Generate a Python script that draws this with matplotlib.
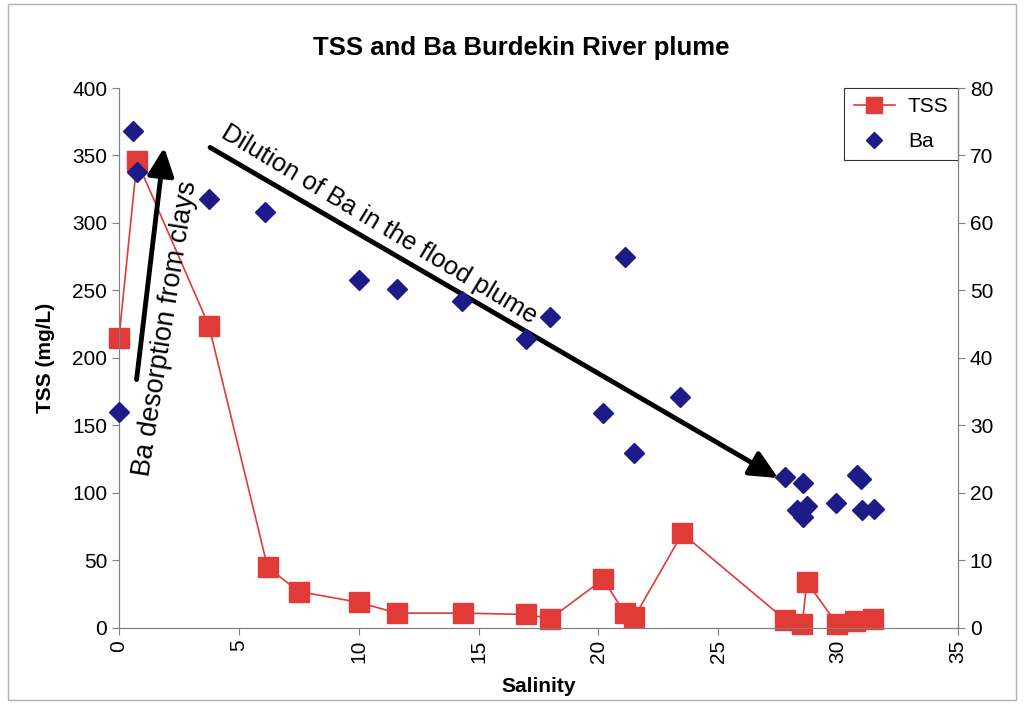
import matplotlib.pyplot as plt
from matplotlib.patches import Rectangle

plt.rcParams['font.family'] = ['Liberation Sans', 'DejaVu Sans']

# TSS (left axis)
tss_sal = [0.0, 0.75, 3.75, 6.2, 7.5, 10.0, 11.6, 14.35, 17.0, 18.0, 20.2, 21.1, 21.5,
           23.5, 27.8, 28.5, 28.7, 29.95, 30.7, 31.45]
tss_val = [215, 346, 224, 45, 27, 19, 11, 11, 10, 7, 36, 11, 8,
           70, 6, 3, 34, 3, 5, 7]

# Ba (right axis)
ba_sal = [0.0, 0.6, 0.75, 3.75, 6.1, 10.0, 11.6, 14.3, 17.0, 18.0, 20.2, 21.1, 21.5,
          23.4, 27.8, 28.55, 28.3, 28.7, 28.55, 29.9, 30.8, 30.95, 31.0, 31.5]
ba_val = [32, 73.6, 67.6, 63.6, 61.6, 51.6, 50.2, 48.4, 42.8, 46, 31.9, 55, 25.9,
          34.2, 22.4, 21.5, 17.5, 18, 16.5, 18.5, 22.6, 22.0, 17.5, 17.6]

red = '#E23A36'
navy = '#1E1A87'

fig = plt.figure(figsize=(10.24, 7.04), dpi=100)
fig.patches.append(Rectangle((0.008, 0.006), 0.984, 0.988, transform=fig.transFigure,
                             fill=False, edgecolor='#B0B0B0', lw=1))
ax = fig.add_axes([0.1162, 0.108, 0.8193, 0.767])
ax2 = ax.twinx()

l1, = ax.plot(tss_sal, tss_val, color=red, lw=1.2, marker='s', markersize=14,
              markerfacecolor=red, markeredgecolor=red, label='TSS', zorder=3,
              clip_on=False)
l2, = ax2.plot(ba_sal, ba_val, linestyle='none', marker='D', markersize=10,
               color=navy, label='Ba', zorder=3, clip_on=False)

ax.set_xlim(0, 35)
ax.set_ylim(0, 400)
ax2.set_ylim(0, 80)
ax.set_xticks(range(0, 36, 5))
ax.set_yticks(range(0, 401, 50))
ax2.set_yticks(range(0, 81, 10))

for a in (ax, ax2):
    a.spines['top'].set_visible(False)
    for s in a.spines.values():
        s.set_color('#808080')
    a.tick_params(labelsize=15, color='#808080', length=5)
ax.tick_params(axis='x', labelrotation=90)

ax.set_title('TSS and Ba Burdekin River plume', fontsize=18.5, fontweight='bold',
             pad=24, x=0.48)
ax.set_xlabel('Salinity', fontsize=15, fontweight='bold', labelpad=10)
ax.set_ylabel('TSS (mg/L)', fontsize=15, fontweight='bold', labelpad=12)

# arrows
ax.annotate('', xy=(1.9, 358), xytext=(0.72, 182),
            arrowprops=dict(arrowstyle='-|>,head_length=1.7,head_width=0.8',
                            lw=3.5, color='black'), zorder=4)
ax.annotate('', xy=(27.6, 110), xytext=(3.7, 357),
            arrowprops=dict(arrowstyle='-|>,head_length=1.7,head_width=0.8',
                            lw=3.5, color='black'), zorder=4)
ax.text(1.96, 222, 'Ba desorption from clays', rotation=81, fontsize=19.5,
        ha='center', va='center', rotation_mode='anchor', zorder=5)
ax.text(10.85, 299, 'Dilution of Ba in the flood plume', rotation=-31, fontsize=18.5,
        ha='center', va='center', rotation_mode='anchor', zorder=5)

leg = ax.legend(handles=[l1, l2], loc='upper right', fontsize=15, frameon=True,
                fancybox=False, borderaxespad=0, handlelength=2.0, markerscale=0.8,
                borderpad=0.45, labelspacing=0.75, handletextpad=0.6)
leg.get_frame().set_edgecolor('black')
leg.get_frame().set_linewidth(0.8)

fig.savefig('out.png', dpi=100)
